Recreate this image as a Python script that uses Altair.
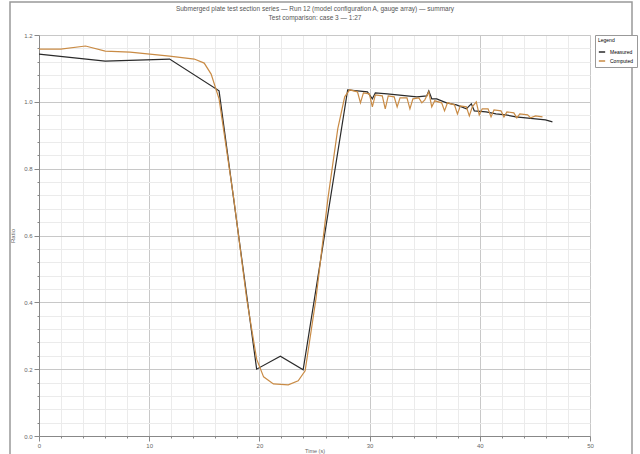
import altair as alt
import pandas as pd

# Series 1 (dark line)
s1_x = [0.0, 6.01, 11.85, 16.34, 19.75, 21.90, 23.97, 28.01, 28.90, 29.80, 30.25, 30.52,
        31.60, 32.50, 33.39, 34.29, 35.19, 35.37, 35.64, 36.09, 36.98, 37.88, 38.78,
        39.23, 39.50, 40.57, 41.47, 42.37, 43.27, 44.17, 45.06, 45.96, 46.59]
s1_y = [1.143, 1.122, 1.128, 1.033, 0.200, 0.239, 0.198, 1.036, 1.033, 1.030, 1.009, 1.027,
        1.024, 1.021, 1.018, 1.015, 1.018, 1.033, 1.009, 1.009, 0.997, 0.991, 0.979,
        0.994, 0.973, 0.970, 0.964, 0.961, 0.955, 0.952, 0.949, 0.946, 0.940]

# Series 2 (orange line)
s2_x = [0.0, 1.97, 4.22, 6.01, 8.26, 11.85, 14.09, 14.99, 15.62, 16.34, 17.68, 18.85,
        19.75, 20.38, 21.27, 22.62, 23.52, 24.15, 25.13, 26.21, 27.11, 27.74, 28.19,
        28.90, 29.17, 29.44, 29.98, 30.25, 30.52, 31.15, 31.42, 31.69, 32.23, 32.50,
        32.76, 33.39, 33.66, 33.93, 34.47, 34.74, 35.01, 35.37, 35.64, 35.91, 36.54,
        36.80, 37.07, 37.70, 37.97, 38.24, 38.78, 39.05, 39.32, 39.68, 39.95, 40.22,
        40.75, 41.02, 41.29, 41.92, 42.19, 42.46, 43.09, 43.36, 43.63, 44.34, 44.61,
        45.06, 45.69]
s2_y = [1.158, 1.158, 1.167, 1.152, 1.149, 1.137, 1.128, 1.116, 1.083, 1.009, 0.709, 0.410,
        0.230, 0.177, 0.156, 0.153, 0.165, 0.195, 0.410, 0.709, 0.919, 1.015, 1.036,
        1.030, 0.997, 1.027, 1.024, 0.985, 1.021, 1.018, 0.979, 1.018, 1.015, 0.985,
        1.012, 1.012, 0.979, 1.009, 1.012, 0.997, 1.006, 1.030, 0.985, 1.003, 0.997,
        0.973, 0.997, 0.991, 0.964, 0.988, 0.985, 0.958, 0.985, 1.000, 0.961, 0.979,
        0.979, 0.955, 0.976, 0.973, 0.955, 0.970, 0.967, 0.952, 0.964, 0.961, 0.952,
        0.958, 0.955]

series_names = ["Measured", "Computed"]
series_colors = ["#2a2a2a", "#c98b45"]

title_lines = ["Submerged plate test section series — Run 12 (model configuration A, gauge array) — summary",
               "Test comparison: case 3 — 1:27"]

rows = []
for i, (x, y) in enumerate(zip(s1_x, s1_y)):
    rows.append({"x": x, "y": y, "series": series_names[0], "order": i})
for i, (x, y) in enumerate(zip(s2_x, s2_y)):
    rows.append({"x": x, "y": y, "series": series_names[1], "order": i})
df = pd.DataFrame(rows)

x_vals = [v for v in range(0, 51, 2)]
y_vals = [round(v * 0.04, 2) for v in range(0, 31)]

major_x = "datum.value % 10 === 0"
major_y = "abs(datum.value*5 - round(datum.value*5)) < 0.001"

x_axis = alt.Axis(
    values=x_vals, labelExpr=f"{major_x} ? datum.label : ''",
    gridColor=alt.condition(major_x, alt.value("#c8c8c8"), alt.value("#ebebeb")),
    tickSize=alt.condition(major_x, alt.value(5), alt.value(2)),
    tickColor="#888", domainColor="#888", labelFontSize=6, labelColor="#666",
    titleFontSize=5.5, titleColor="#666", titleFontWeight="normal", labelFlush=False,
    labelPadding=1, titlePadding=0,
)
y_axis = alt.Axis(
    values=y_vals, labelExpr=f"{major_y} ? format(datum.value, '.1f') : ''",
    gridColor=alt.condition(major_y, alt.value("#c8c8c8"), alt.value("#ebebeb")),
    tickSize=alt.condition(major_y, alt.value(5), alt.value(2)),
    tickColor="#888", domainColor="#888", labelFontSize=6, labelColor="#666",
    titleFontSize=6, titleColor="#666", titleFontWeight="normal", labelFlush=False,
    titlePadding=8,
)

lines = alt.Chart(df).mark_line(strokeWidth=1.2).encode(
    x=alt.X("x:Q", scale=alt.Scale(domain=[0, 50], nice=False), axis=x_axis, title="Time (s)"),
    y=alt.Y("y:Q", scale=alt.Scale(domain=[0, 1.2], nice=False), axis=y_axis, title="Ratio"),
    color=alt.Color("series:N", scale=alt.Scale(domain=series_names, range=series_colors),
                    legend=alt.Legend(orient="none", legendX=556, legendY=0, title="Legend",
                                      titleFontSize=5, labelFontSize=5, symbolSize=40,
                                      symbolType="stroke", strokeColor="#999", padding=3,
                                      fillColor="white", titleFontWeight="normal")),
    order="order:Q",
)

border = alt.Chart(pd.DataFrame({"a": [0]})).mark_rect(
    fill=None, stroke="#999", strokeWidth=1.5, clip=False
).encode(x=alt.value(-29), x2=alt.value(593), y=alt.value(-33), y2=alt.value(420))

title1 = alt.Chart(pd.DataFrame({"t": [title_lines[0]]})).mark_text(
    fontSize=6.5, color="#555", align="center", baseline="middle", clip=False
).encode(text="t:N", x=alt.value(276), y=alt.value(-26))
title2 = alt.Chart(pd.DataFrame({"t": [title_lines[1]]})).mark_text(
    fontSize=6.5, color="#555", align="center", baseline="middle", clip=False
).encode(text="t:N", x=alt.value(276), y=alt.value(-17))

chart = alt.layer(border, lines, title1, title2).properties(
    width=551, height=401,
    autosize=alt.AutoSizeParams(type="none"),
    padding={"left": 39, "top": 35, "right": 50, "bottom": 18},
).configure_view(stroke="#888", strokeWidth=1).configure(background="white")

chart.save("out.html", embed_options={"renderer": "svg", "actions": False})
